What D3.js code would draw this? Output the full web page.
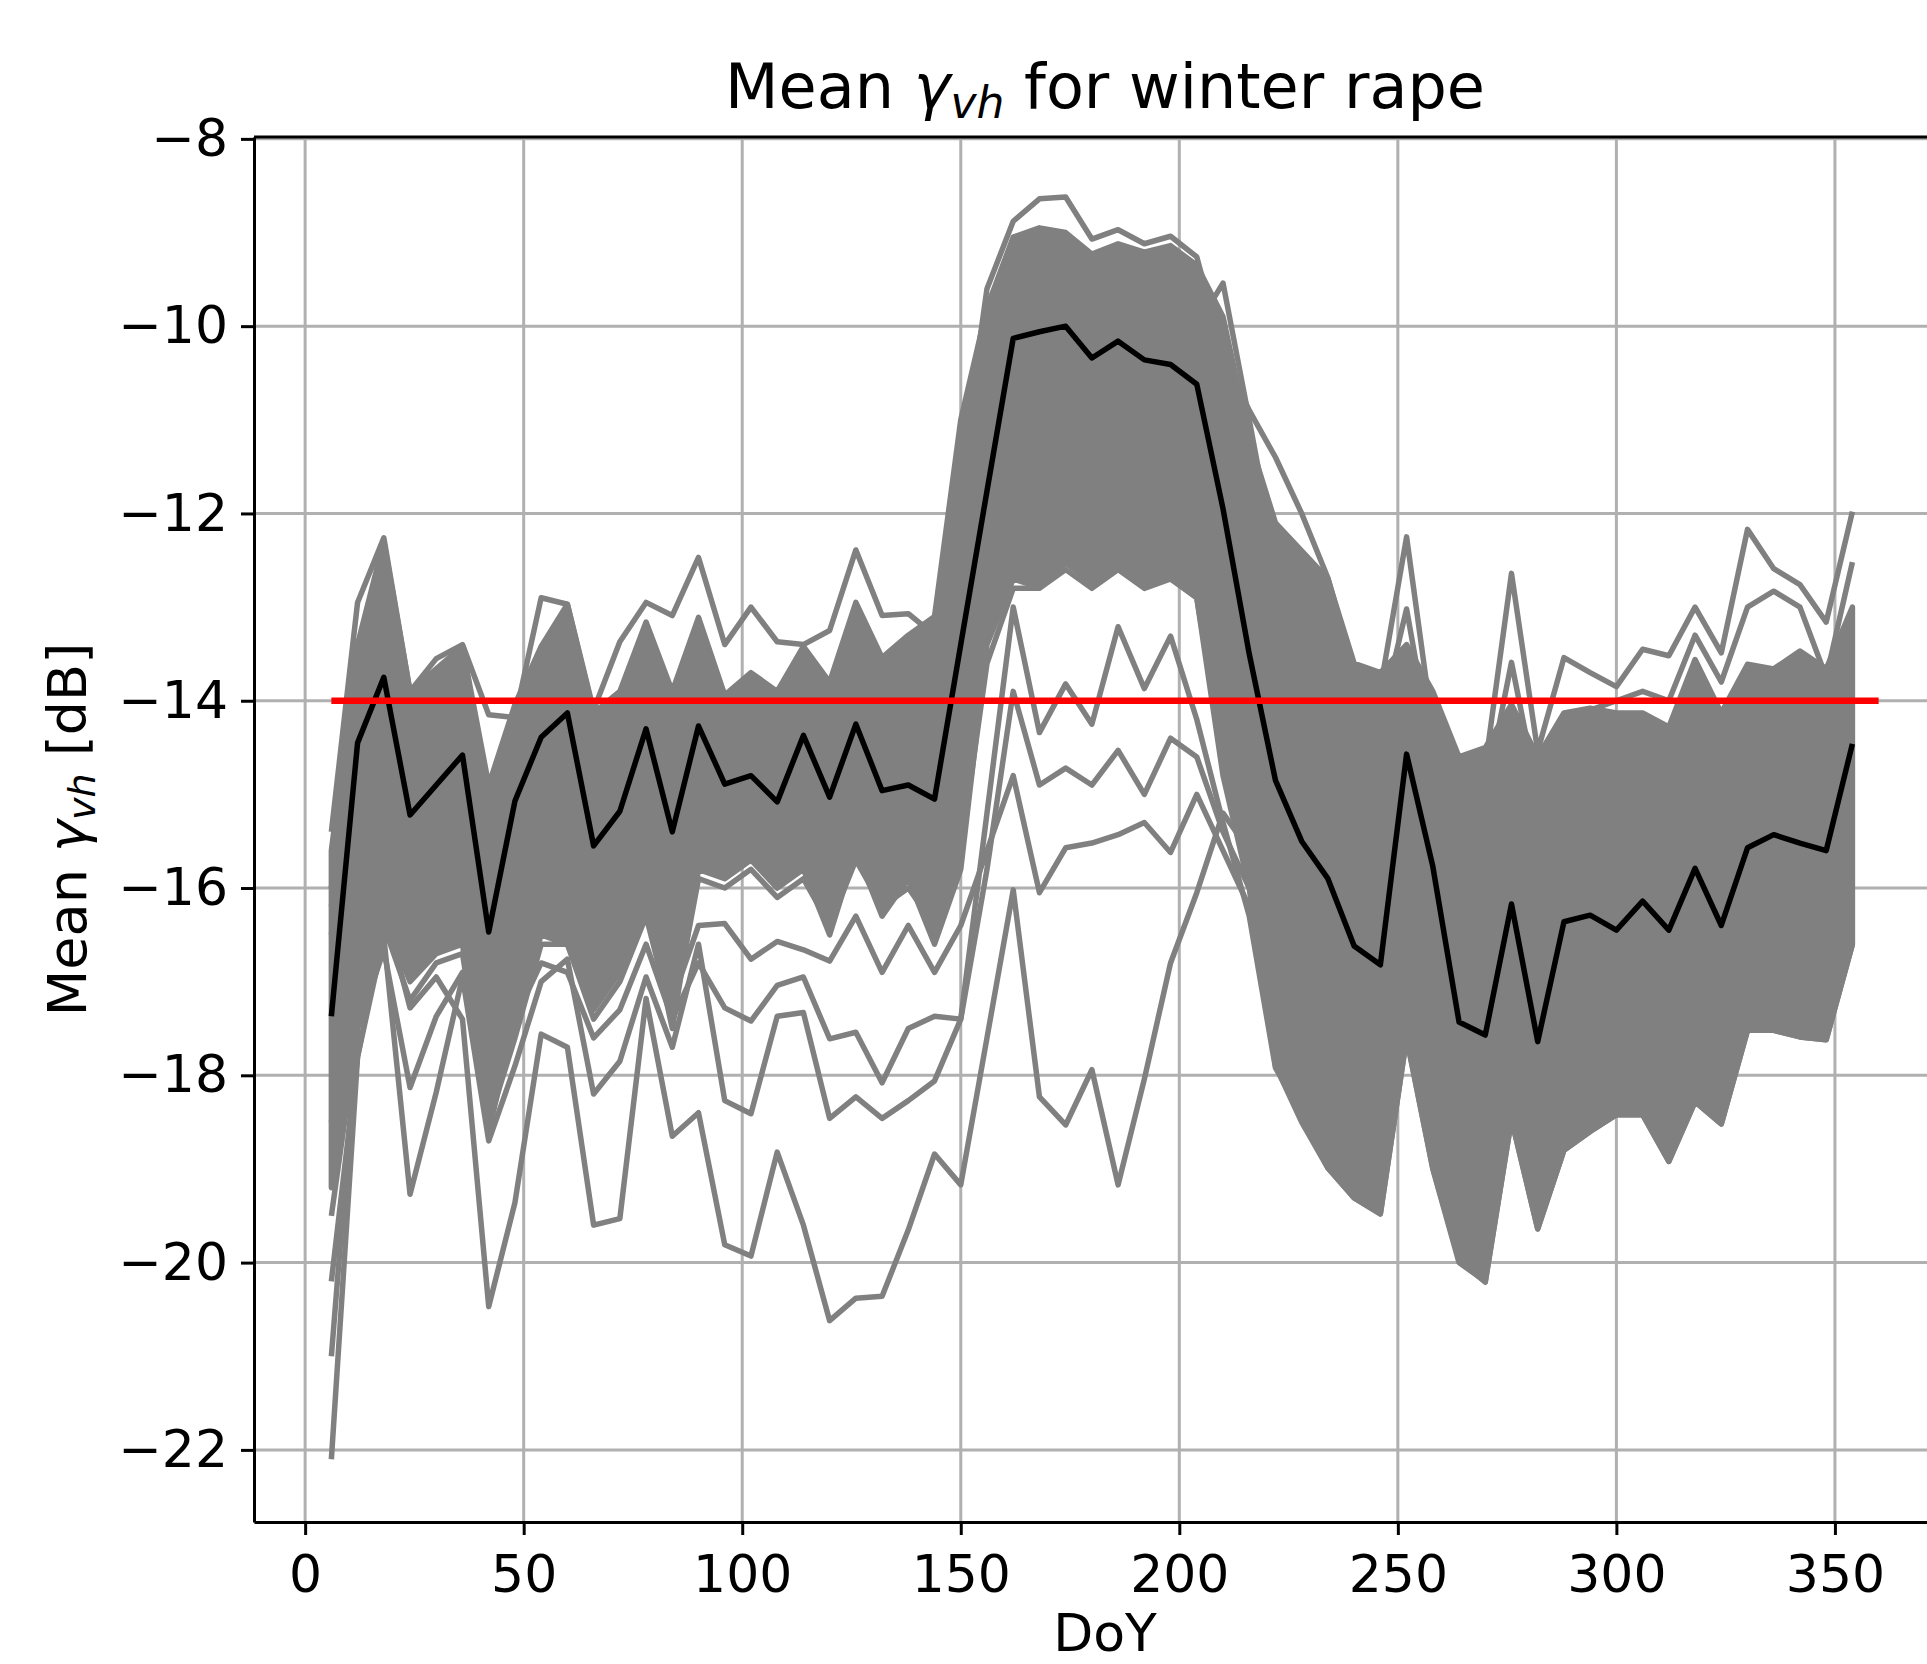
<!DOCTYPE html>
<html>
<head>
<meta charset="utf-8">
<script src="https://cdn.jsdelivr.net/npm/d3@7"></script>
<style>
  body { margin: 0; background: #fff; overflow: hidden; }
  text { font-family: "DejaVu Sans", sans-serif; fill: #000; }
</style>
</head>
<body>
<svg id="chart"></svg>
<script>
const WIDTH = 1927;
const HEIGHT = 1664;

// acquisition days of year
const doy = [6, 12, 18, 24, 30, 36, 42, 48, 54, 60,
  66, 72, 78, 84, 90, 96, 102, 108, 114, 120,
  126, 132, 138, 144, 150, 156, 162, 168, 174, 180,
  186, 192, 198, 204, 210, 216, 222, 228, 234, 240,
  246, 252, 258, 264, 270, 276, 282, 288, 294, 300,
  306, 312, 318, 324, 330, 336, 342, 348, 354];

// mean over all fields (black)
const meanVh = [-17.37, -14.45, -13.75, -15.22, -14.9, -14.58, -16.47, -15.07, -14.39, -14.13,
  -15.55, -15.18, -14.30, -15.40, -14.27, -14.89, -14.80, -15.08, -14.37, -15.03,
  -14.25, -14.96, -14.90, -15.05, -13.40, -11.76, -10.13, -10.06, -10.0, -10.34,
  -10.16, -10.36, -10.41, -10.62, -11.95, -13.5, -14.85, -15.5, -15.9, -16.62,
  -16.82, -14.57, -15.77, -17.43, -17.57, -16.17, -17.64, -16.36, -16.29, -16.45,
  -16.14, -16.45, -15.79, -16.40, -15.57, -15.43, -15.52, -15.60, -14.46];

// upper / lower edge of the dense bundle of field curves
const bandTop = [-15.6, -13.4, -12.3, -13.9, -13.66, -13.42, -14.9, -14.04, -13.42, -12.97,
  -14.13, -13.9, -13.16, -13.9, -13.11, -13.94, -13.7, -13.9, -13.42, -13.8,
  -12.95, -13.54, -13.3, -13.1, -11.0, -9.8, -9.05, -8.95, -9.0, -9.23,
  -9.12, -9.21, -9.14, -9.35, -9.9, -11.2, -12.1, -12.4, -12.7, -13.6,
  -13.7, -13.4, -13.9, -14.6, -14.5, -14.04, -14.6, -14.13, -14.08, -14.13,
  -14.13, -14.28, -13.56, -14.13, -13.61, -13.66, -13.47, -13.66, -13.0];
const bandBottom = [-19.2, -17.3, -16.3, -17.0, -16.7, -16.6, -18.6, -17.4, -16.5, -16.6,
  -17.3, -16.9, -16.2, -17.5, -15.8, -15.9, -15.7, -16.0, -15.8, -16.5,
  -15.6, -16.3, -15.9, -16.6, -15.8, -13.4, -12.7, -12.79, -12.53, -12.74,
  -12.57, -12.74, -12.69, -12.9, -14.8, -16.0, -17.9, -18.5, -18.99, -19.31,
  -19.48, -17.6, -19.0, -20.0, -20.2, -18.47, -19.64, -18.8, -18.6, -18.42,
  -18.42, -18.92, -18.28, -18.52, -17.52, -17.52, -17.59, -17.62, -16.6];

// single field curves that stand out of the bundle (grey)
const fieldHighEarly = [-15.4, -12.95, -12.26, -13.9, -13.55, -13.4, -14.15, -14.18, -12.9, -12.97,
  -14.1, -13.37, -12.95, -13.09, -12.47, -13.4, -13.0, -13.37, -13.4, -13.25,
  -12.39, -13.09, -13.07, -13.3, -11.2, -9.9, -9.4, -9.3, -9.4, -9.6,
  -9.5, -9.6, -9.5, -9.8, -10.5, -11.8, -12.8, -13.5, -14.0, -14.6,
  -14.6, -13.6, -14.6, -15.4, -15.5, -14.6, -15.3, -14.8, -14.7, -14.9,
  -14.7, -14.9, -14.3, -14.8, -14.3, -14.2, -14.2, -14.3, -13.6];
const fieldPeakTop = [-16.0, -14.0, -13.0, -14.6, -14.3, -14.0, -15.6, -14.6, -13.8, -13.5,
  -14.8, -14.5, -13.7, -14.6, -13.7, -14.4, -14.3, -14.5, -13.9, -14.4,
  -13.6, -14.2, -14.0, -13.9, -11.6, -9.6, -8.88, -8.64, -8.62, -9.07,
  -8.97, -9.12, -9.04, -9.26, -10.3, -10.9, -11.4, -12.0, -12.69, -13.68,
  -13.87, -13.8, -14.2, -14.9, -14.8, -14.3, -14.9, -14.4, -14.3, -14.4,
  -14.4, -14.5, -14.0, -14.4, -14.0, -14.0, -13.9, -14.0, -13.4];
const fieldSpike210 = [-16.5, -14.2, -13.2, -14.8, -14.6, -14.3, -16.0, -14.9, -14.2, -13.9,
  -15.3, -15.0, -14.1, -15.2, -14.0, -14.7, -14.6, -14.9, -14.2, -14.8,
  -14.0, -14.8, -14.7, -14.9, -12.6, -10.8, -9.8, -9.7, -9.7, -9.9,
  -9.8, -9.9, -9.8, -10.0, -9.54, -11.0, -12.5, -13.3, -14.2, -14.8,
  -14.9, -13.9, -15.0, -15.8, -15.7, -14.9, -15.7, -15.1, -15.0, -15.1,
  -15.0, -15.2, -14.6, -15.1, -14.6, -14.5, -14.5, -14.6, -13.9];
const fieldLateHigh1 = [-16.2, -14.0, -13.0, -14.5, -14.2, -14.0, -15.4, -14.6, -13.9, -13.6,
  -14.7, -14.4, -13.7, -14.5, -13.6, -14.3, -14.2, -14.4, -13.9, -14.3,
  -13.5, -14.1, -14.0, -14.2, -12.0, -10.2, -9.5, -9.4, -9.4, -9.7,
  -9.6, -9.7, -9.6, -9.9, -10.8, -12.0, -13.0, -13.6, -13.9, -14.0,
  -13.87, -12.25, -14.3, -14.9, -14.7, -12.64, -14.54, -13.54, -13.7, -13.85,
  -13.45, -13.52, -13.0, -13.49, -12.17, -12.59, -12.76, -13.16, -11.98];
const fieldLateHigh2 = [-16.0, -13.8, -12.9, -14.4, -14.1, -13.9, -15.3, -14.5, -13.8, -13.5,
  -14.6, -14.3, -13.6, -14.4, -13.5, -14.3, -14.1, -14.3, -13.8, -14.2,
  -13.4, -14.0, -13.8, -14.0, -11.8, -10.1, -9.3, -9.2, -9.2, -9.5,
  -9.4, -9.5, -9.4, -9.7, -10.6, -11.9, -12.9, -13.4, -13.8, -13.9,
  -14.2, -13.02, -14.6, -15.2, -15.0, -13.59, -15.0, -14.2, -14.1, -14.0,
  -13.9, -14.0, -13.3, -13.8, -13.0, -12.83, -13.0, -13.75, -12.52];
const fieldLow1 = [-19.5, -17.5, -16.2, -17.28, -16.95, -17.4, -20.47, -19.36, -17.56, -17.7,
  -19.6, -19.53, -17.18, -18.65, -18.4, -19.81, -19.93, -18.82, -19.6, -20.62,
  -20.38, -20.36, -19.65, -18.84, -19.17, -17.6, -16.02, -18.23, -18.53, -17.94,
  -19.17, -18.04, -16.8, -16.05, -15.2, -15.6, -16.8, -17.4, -17.9, -18.3,
  -18.5, -16.2, -17.8, -18.9, -19.1, -17.6, -18.9, -17.9, -17.7, -17.7,
  -17.6, -17.9, -17.3, -17.6, -16.9, -16.8, -16.9, -16.9, -15.8];
const fieldLow2 = [-20.2, -17.8, -16.52, -19.27, -18.18, -16.95, -18.7, -17.9, -17.0, -16.76,
  -18.2, -17.85, -16.95, -17.7, -16.6, -18.27, -18.41, -17.37, -17.33, -18.46,
  -18.23, -18.46, -18.27, -18.06, -17.4, -15.2, -13.0, -14.34, -13.82, -14.25,
  -13.21, -13.87, -13.31, -14.2, -15.3, -16.3, -17.92, -18.4, -18.99, -19.31,
  -19.48, -17.6, -18.99, -19.97, -20.21, -18.47, -19.64, -18.8, -18.6, -18.42,
  -18.42, -18.92, -18.28, -18.52, -17.52, -17.52, -17.59, -17.62, -16.6];
const fieldLow3 = [-21.0, -17.5, -16.66, -18.13, -17.37, -16.9, -18.0, -17.4, -16.8, -16.9,
  -17.6, -17.3, -16.6, -17.4, -16.8, -17.28, -17.42, -17.04, -16.95, -17.61,
  -17.54, -18.08, -17.5, -17.37, -17.4, -15.8, -13.9, -14.9, -14.72, -14.9,
  -14.53, -15.0, -14.4, -14.6, -15.4, -16.0, -17.3, -18.0, -18.5, -18.9,
  -19.0, -17.0, -18.6, -19.6, -19.8, -18.0, -19.3, -18.5, -18.3, -18.2,
  -18.1, -18.6, -18.0, -18.2, -17.3, -17.2, -17.3, -17.3, -16.3];
const fieldLow4 = [-18.5, -16.8, -16.0, -16.9, -16.6, -16.5, -18.3, -17.2, -16.3, -16.4,
  -17.1, -16.8, -16.1, -17.2, -16.4, -16.38, -16.76, -16.57, -16.66, -16.78,
  -16.3, -16.9, -16.4, -16.9, -16.4, -15.6, -14.8, -16.05, -15.57, -15.52,
  -15.43, -15.3, -15.62, -15.0, -15.6, -16.2, -17.0, -17.6, -18.0, -18.4,
  -18.6, -16.8, -18.2, -19.2, -19.4, -17.8, -19.0, -18.2, -18.0, -17.9,
  -17.8, -18.2, -17.6, -17.9, -17.0, -16.9, -17.0, -17.0, -16.0];
const fieldLow5 = [-22.1, -17.8, -16.4, -17.2, -16.8, -16.7, -18.5, -17.6, -16.6, -16.6,
  -17.4, -17.0, -16.3, -17.4, -15.9, -16.0, -15.8, -16.1, -15.9, -16.4,
  -15.7, -16.2, -16.0, -16.4, -15.6, -13.6, -12.8, -12.8, -12.6, -12.8,
  -12.6, -12.8, -12.7, -12.9, -14.6, -15.8, -17.5, -18.2, -18.7, -19.0,
  -19.2, -17.4, -18.8, -19.8, -20.0, -18.3, -19.4, -18.6, -18.4, -18.2,
  -18.2, -18.7, -18.1, -18.3, -17.4, -17.4, -17.4, -17.5, -16.5];

const thresholdDb = -14;
const thresholdRange = [6, 360];

const xTicks = [0, 50, 100, 150, 200, 250, 300, 350];
const yTicks = [-22, -20, -18, -16, -14, -12, -10, -8];

const fieldLines = [fieldHighEarly, fieldPeakTop, fieldSpike210, fieldLateHigh1, fieldLateHigh2,
  fieldLow1, fieldLow2, fieldLow3, fieldLow4, fieldLow5];

window.onload = function(){
    makeChart();
};

function makeChart(){
    const plot = {left: 254, top: 137, bottom: 1522, right: 1956};

    const svg = d3.select('#chart')
        .attr('width', WIDTH)
        .attr('height', HEIGHT)
        .style('background-color', 'white');

    const x = d3.scaleLinear().domain([-11.7, 377.7]).range([plot.left, plot.right]);
    const y = d3.scaleLinear().domain([-22.77, -7.98]).range([plot.bottom, plot.top]);

    svg.append('defs').append('clipPath')
        .attr('id', 'plotclip')
        .append('rect')
        .attr('x', plot.left).attr('y', plot.top)
        .attr('width', plot.right - plot.left)
        .attr('height', plot.bottom - plot.top);

    // grid
    const grid = svg.append('g').attr('class', 'grid');
    grid.selectAll('.vgrid').data(xTicks).enter().append('line')
        .attr('x1', d => x(d)).attr('x2', d => x(d))
        .attr('y1', plot.top).attr('y2', plot.bottom)
        .style('stroke', '#b0b0b0').style('stroke-width', 3);
    grid.selectAll('.hgrid').data(yTicks).enter().append('line')
        .attr('y1', d => y(d)).attr('y2', d => y(d))
        .attr('x1', plot.left).attr('x2', plot.right)
        .style('stroke', '#b0b0b0').style('stroke-width', 3);

    const data = svg.append('g').attr('clip-path', 'url(#plotclip)');

    // dense bundle of field curves
    const band = d3.area()
        .x((d, i) => x(doy[i]))
        .y0((d, i) => y(bandBottom[i]))
        .y1((d, i) => y(bandTop[i]));
    data.append('path')
        .datum(doy)
        .attr('d', band)
        .style('fill', 'gray')
        .style('stroke', 'gray')
        .style('stroke-width', 5.5)
        .style('stroke-linejoin', 'round');

    const line = d3.line()
        .x((d, i) => x(doy[i]))
        .y(d => y(d));

    data.selectAll('.field')
        .data(fieldLines)
        .enter()
        .append('path')
        .attr('class', 'field')
        .attr('d', line)
        .style('fill', 'none')
        .style('stroke', 'gray')
        .style('stroke-width', 5.5)
        .style('stroke-linejoin', 'round');

    data.append('path')
        .datum(meanVh)
        .attr('d', line)
        .style('fill', 'none')
        .style('stroke', 'black')
        .style('stroke-width', 5.5)
        .style('stroke-linejoin', 'round');

    data.append('line')
        .attr('x1', x(thresholdRange[0])).attr('x2', x(thresholdRange[1]))
        .attr('y1', y(thresholdDb)).attr('y2', y(thresholdDb))
        .style('stroke', 'red')
        .style('stroke-width', 6.5);

    // axes
    const xAxis = svg.append('g')
        .attr('transform', 'translate(0,' + plot.bottom + ')')
        .call(d3.axisBottom(x).tickValues(xTicks).tickSize(13).tickPadding(20).tickSizeOuter(0));
    const yAxis = svg.append('g')
        .attr('transform', 'translate(' + plot.left + ',0)')
        .call(d3.axisLeft(y).tickValues(yTicks).tickSize(13).tickPadding(13).tickSizeOuter(0));

    [xAxis, yAxis].forEach(a => {
        a.select('.domain').style('stroke', 'black').style('stroke-width', 3);
        a.selectAll('.tick line').style('stroke', 'black').style('stroke-width', 3);
        a.selectAll('.tick text')
            .style('font-family', '"DejaVu Sans"')
            .style('font-size', '52px')
            .style('fill', 'black');
    });

    svg.append('line')
        .attr('x1', plot.left).attr('x2', plot.right)
        .attr('y1', plot.top).attr('y2', plot.top)
        .style('stroke', 'black').style('stroke-width', 3);

    // title
    const title = svg.append('text')
        .attr('x', (plot.left + plot.right) / 2)
        .attr('y', 108)
        .attr('text-anchor', 'middle')
        .style('font-size', '62px');
    title.append('tspan').text('Mean ');
    title.append('tspan').style('font-style', 'italic').text('γ');
    title.append('tspan').style('font-style', 'italic').style('font-size', '44px').attr('dy', 10).text('vh');
    title.append('tspan').attr('dy', -10).text(' for winter rape');

    // axis labels
    svg.append('text')
        .attr('x', (plot.left + plot.right) / 2)
        .attr('y', 1651)
        .attr('text-anchor', 'middle')
        .style('font-size', '52px')
        .text('DoY');

    const ylab = svg.append('text')
        .attr('transform', 'translate(86,' + ((plot.top + plot.bottom) / 2) + ') rotate(-90)')
        .attr('text-anchor', 'middle')
        .style('font-size', '54px');
    ylab.append('tspan').text('Mean ');
    ylab.append('tspan').style('font-style', 'italic').text('γ');
    ylab.append('tspan').style('font-style', 'italic').style('font-size', '38px').attr('dy', 9).text('vh');
    ylab.append('tspan').attr('dy', -9).text(' [dB]');
}
</script>
</body>
</html>
